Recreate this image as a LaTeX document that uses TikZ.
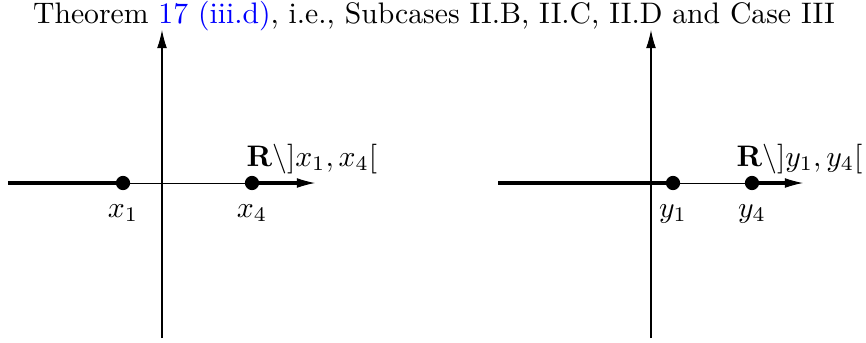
\documentclass[tikz,border=0pt]{standalone}
\usetikzlibrary{arrows.meta}
\begin{document}
\begin{tikzpicture}[x=0.337pt,y=-0.337pt,
  axis/.style={line width=0.34pt,-{Latex[length=6.1pt,width=3.3pt]}},
  heavy/.style={line width=1.35pt},
  dot/.style={circle,fill=black,inner sep=0pt,minimum size=4.8pt},
  lab/.style={inner sep=0pt}]
\useasboundingbox (0,0) rectangle (866,342);
\node[lab,anchor=base] (title) at (434,23) {Theorem \textcolor{blue}{17 (iii.d)}, i.e., Subcases II.B, II.C, II.D and Case III};
% left
\coordinate (lb) at (162,338);
\coordinate (lt) at (162,30);
\draw[axis] (lb) -- (lt);
\coordinate (hl) at (8,183);
\coordinate (hr) at (315,183);
\coordinate (he) at (297,183);
\draw[axis] (hl) -- (hr);
\node[dot] (x1) at (123,183) {};
\node[dot] (x4) at (252,183) {};
\draw[heavy] (hl) -- (x1.center);
\draw[heavy] (x4.center) -- (he);
\node[lab,anchor=base] (lx1) at (123,217) {$x_1$};
\node[lab,anchor=base] (lx4) at (252,217) {$x_4$};
\node[lab,anchor=base west] (rl) at (246,166) {$\mathbf{R}\backslash]x_1,x_4[$};
% right
\coordinate (rb) at (651,338);
\coordinate (rt) at (651,30);
\draw[axis] (rb) -- (rt);
\coordinate (gl) at (498,183);
\coordinate (gr) at (803,183);
\coordinate (ge) at (785,183);
\draw[axis] (gl) -- (gr);
\node[dot] (y1) at (673,183) {};
\node[dot] (y4) at (752,183) {};
\draw[heavy] (gl) -- (y1.center);
\draw[heavy] (y4.center) -- (ge);
\node[lab,anchor=base] (ly1) at (673,217) {$y_1$};
\node[lab,anchor=base] (ly4) at (752,217) {$y_4$};
\node[lab,anchor=base west] (rr) at (736,166) {$\mathbf{R}\backslash]y_1,y_4[$};
\end{tikzpicture}
\end{document}
